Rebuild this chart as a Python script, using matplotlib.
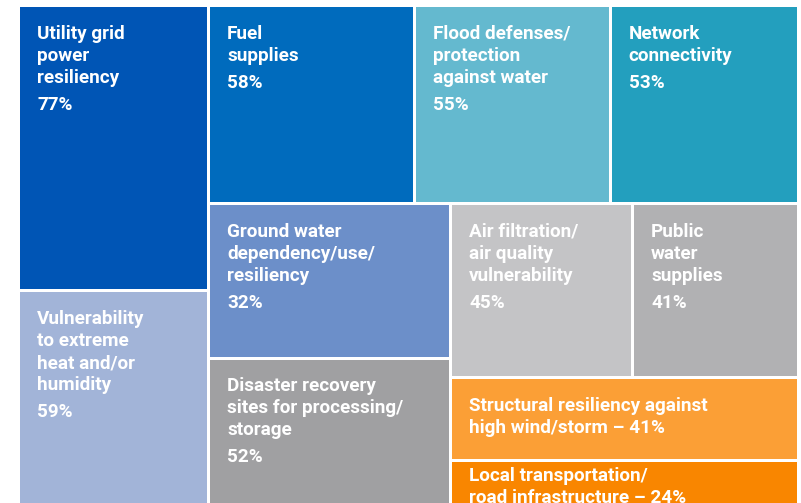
import matplotlib
matplotlib.use("Agg")
import matplotlib.pyplot as plt
from matplotlib.patches import Rectangle

# ---- data ----
labels = [
    "Utility grid\npower\nresiliency",
    "Vulnerability\nto extreme\nheat and/or\nhumidity",
    "Fuel\nsupplies",
    "Flood defenses/\nprotection\nagainst water",
    "Network\nconnectivity",
    "Ground water\ndependency/use/\nresiliency",
    "Disaster recovery\nsites for processing/\nstorage",
    "Air filtration/\nair quality\nvulnerability",
    "Public\nwater\nsupplies",
    "Structural resiliency against\nhigh wind/storm",
    "Local transportation/\nroad infrastructure",
]
percents = [77, 59, 58, 55, 53, 32, 52, 45, 41, 41, 24]
# tile area weights as drawn in the reference
tile_sizes = [77, 59, 58, 55, 53, 53, 52, 45, 41, 41, 24]
colors = ["#0055B5", "#A2B4D8", "#006BBD", "#64B9CF", "#239FBE",
          "#6C8FC9", "#A0A0A2", "#C4C4C6", "#B1B1B3", "#FB9F36", "#F98600"]
inline_pct = [False] * 9 + [True, True]

# nested slice-and-dice structure ('h' = side by side, 'v' = stacked)
tree = ('h', [('v', [0, 1]),
              ('v', [('h', [2, 3, 4]),
                     ('h', [('v', [5, 6]),
                            ('v', [('h', [7, 8]), 9, 10])])])])


def total(node):
    if isinstance(node, int):
        return tile_sizes[node]
    return sum(total(c) for c in node[1])


def layout(node, x, y, w, h, out):
    if isinstance(node, int):
        out[node] = (x, y, w, h)
        return
    d, children = node
    t = total(node)
    pos = 0.0
    for c in children:
        f = total(c) / t
        if d == 'h':
            layout(c, x + pos * w, y, f * w, h, out)
        else:
            layout(c, x, y + pos * h, w, f * h, out)
        pos += f


W, H = 801, 503
fig = plt.figure(figsize=(W / 100, H / 100), dpi=100)
ax = fig.add_axes([0, 0, 1, 1])
ax.set_xlim(0, W)
ax.set_ylim(H, 0)
ax.axis("off")

rects = {}
layout(tree, 18.5, 5.5, 780, 504, rects)

gap = 1.5
fs = 13.6
line_h = 22
cap_h = 13.2
for i, (x, y, w, h) in rects.items():
    vx, vy, vw, vh = x + gap, y + gap, w - 2 * gap, h - 2 * gap
    ax.add_patch(Rectangle((vx, vy), vw, vh, facecolor=colors[i], edgecolor="none"))
    lines = labels[i].split("\n")
    if inline_pct[i]:
        lines[-1] = lines[-1] + f" \u2013 {percents[i]}%"
        extra = 0
    else:
        lines.append(f"{percents[i]}%")
        extra = 5
    block = cap_h + line_h * (len(lines) - 1) + extra
    top_off = min(18.5, (vh - block) / 2)
    base = vy + top_off + cap_h
    for k, ln in enumerate(lines):
        yy = base + k * line_h
        if (not inline_pct[i]) and k == len(lines) - 1:
            yy += extra
        ax.text(vx + 17, yy, ln, color="white", fontsize=fs, fontweight="bold",
                family=["Roboto", "DejaVu Sans"], ha="left", va="baseline")

fig.savefig("out.png", dpi=100, facecolor="white")
